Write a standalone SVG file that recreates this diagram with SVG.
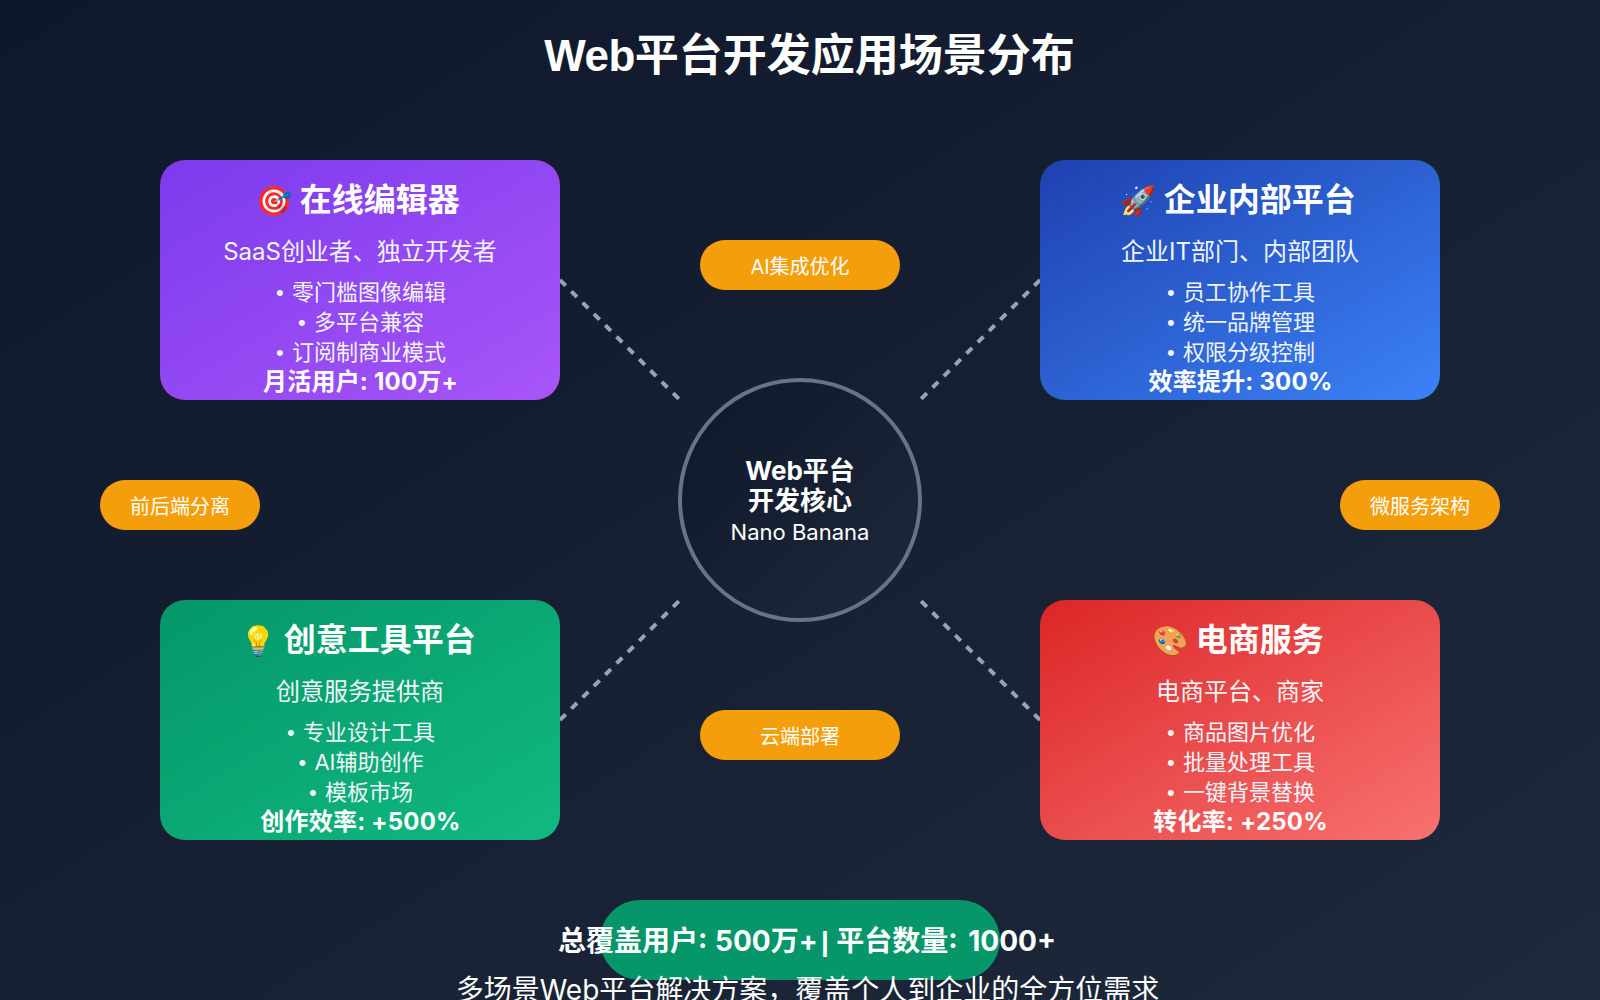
<svg xmlns="http://www.w3.org/2000/svg" width="1600" height="1000" viewBox="0 0 1600 1000">
<defs>
<linearGradient id="bg" x1="0" y1="0" x2="1" y2="1"><stop offset="0" stop-color="#0f172a"/><stop offset="1" stop-color="#1e293b"/></linearGradient>
<linearGradient id="g1" x1="0" y1="0" x2="1" y2="1"><stop offset="0" stop-color="#7c3aed"/><stop offset="1" stop-color="#a855f7"/></linearGradient>
<linearGradient id="g2" x1="0" y1="0" x2="1" y2="1"><stop offset="0" stop-color="#1e40af"/><stop offset="1" stop-color="#3b82f6"/></linearGradient>
<linearGradient id="g3" x1="0" y1="0" x2="1" y2="1"><stop offset="0" stop-color="#059669"/><stop offset="1" stop-color="#10b981"/></linearGradient>
<linearGradient id="g4" x1="0" y1="0" x2="1" y2="1"><stop offset="0" stop-color="#dc2626"/><stop offset="1" stop-color="#f87171"/></linearGradient>
</defs>
<style>
text{font-family:Inter,"Noto Sans CJK SC","Noto Color Emoji",sans-serif;text-anchor:middle;fill:#fff}
.t{font-size:32px;font-weight:700}
.e{font-size:29px}
.s{font-size:24px;fill:#f1f5f9}
.i{font-size:22px;fill:#f1f5f9;word-spacing:2px}
.b{font-family:"Liberation Sans",sans-serif}
.m{font-size:24px;font-weight:700;letter-spacing:.2px}
.p{fill:#f59e0b}
.pt{font-size:20px;font-weight:400}
.c{stroke:#94a3b8;stroke-width:4;stroke-dasharray:8 8;fill:none}
.st{font-size:28px;font-weight:700}
</style>
<rect width="1600" height="1000" fill="url(#bg)"/>
<text x="809.5" y="71" font-size="44" font-weight="700"><tspan font-family="Liberation Sans" letter-spacing="-.5">Web</tspan>平台开发应用场景分布</text>
<g id="connectors">
<line class="c" x1="560" y1="280" x2="680" y2="400"/>
<line class="c" x1="1040" y1="280" x2="920" y2="400"/>
<line class="c" x1="560" y1="720" x2="680" y2="600"/>
<line class="c" x1="1040" y1="720" x2="920" y2="600"/>
</g>
<g id="card-editor"><rect x="160" y="160" width="400" height="240" rx="25" fill="url(#g1)"/>
<text class="t" x="358" y="211"><tspan class="e">🎯</tspan> 在线编辑器</text><text class="s" x="360" y="260">SaaS创业者、独立开发者</text>
<text class="i" x="361" y="300"><tspan class="b">•</tspan> 零门槛图像编辑</text><text class="i" x="361" y="330"><tspan class="b">•</tspan> 多平台兼容</text><text class="i" x="361" y="360"><tspan class="b">•</tspan> 订阅制商业模式</text><text class="m" x="360.5" y="390">月活用户: 100万+</text></g>
<g id="card-enterprise"><rect x="1040" y="160" width="400" height="240" rx="25" fill="url(#g2)"/>
<text class="t" x="1238" y="211"><tspan class="e">🚀</tspan> 企业内部平台</text><text class="s" x="1240" y="260">企业IT部门、内部团队</text>
<text class="i" x="1241" y="300"><tspan class="b">•</tspan> 员工协作工具</text><text class="i" x="1241" y="330"><tspan class="b">•</tspan> 统一品牌管理</text><text class="i" x="1241" y="360"><tspan class="b">•</tspan> 权限分级控制</text><text class="m" x="1240.5" y="390">效率提升: 300%</text></g>
<g id="card-creative"><rect x="160" y="600" width="400" height="240" rx="25" fill="url(#g3)"/>
<text class="t" x="358" y="651"><tspan class="e">💡</tspan> 创意工具平台</text><text class="s" x="360" y="700">创意服务提供商</text>
<text class="i" x="361" y="740"><tspan class="b">•</tspan> 专业设计工具</text><text class="i" x="361" y="770"><tspan class="b">•</tspan> AI辅助创作</text><text class="i" x="361" y="800"><tspan class="b">•</tspan> 模板市场</text><text class="m" x="360.5" y="830">创作效率: +500%</text></g>
<g id="card-ecommerce"><rect x="1040" y="600" width="400" height="240" rx="25" fill="url(#g4)"/>
<text class="t" x="1238" y="651"><tspan class="e">🎨</tspan> 电商服务</text><text class="s" x="1240" y="700">电商平台、商家</text>
<text class="i" x="1241" y="740"><tspan class="b">•</tspan> 商品图片优化</text><text class="i" x="1241" y="770"><tspan class="b">•</tspan> 批量处理工具</text><text class="i" x="1241" y="800"><tspan class="b">•</tspan> 一键背景替换</text><text class="m" x="1240.5" y="830">转化率: +250%</text></g>
<g id="core"><circle cx="800" cy="500" r="120" fill="url(#bg)" stroke="#64748b" stroke-width="4"/>
<text x="800" y="480" font-size="26" font-weight="700">Web平台</text><text x="800" y="510" font-size="26" font-weight="700">开发核心</text><text x="800" y="540" font-size="22" fill="#f1f5f9">Nano Banana</text></g>
<g id="tag-ai"><rect class="p" x="700" y="240" width="200" height="50" rx="25"/><text class="pt" x="800" y="274">AI集成优化</text></g>
<g id="tag-sep"><rect class="p" x="100" y="480" width="160" height="50" rx="25"/><text class="pt" x="180" y="514">前后端分离</text></g>
<g id="tag-ms"><rect class="p" x="1340" y="480" width="160" height="50" rx="25"/><text class="pt" x="1420" y="514">微服务架构</text></g>
<g id="tag-cloud"><rect class="p" x="700" y="710" width="200" height="50" rx="25"/><text class="pt" x="800" y="744">云端部署</text></g>
<g id="summary"><rect x="600" y="900" width="400" height="80" rx="40" fill="#059669"/>
<text class="st" x="558" y="951" style="text-anchor:start" word-spacing="1">总覆盖用户: 500万+</text>
<text class="st" x="825" y="951" style="font-family:'Liberation Sans',sans-serif">|</text>
<text class="st" x="1056" y="951" style="text-anchor:end" word-spacing="4">平台数量: 1000+</text>
<text x="807.5" y="1000" font-size="28" fill="#e2e8f0">多场景Web平台解决方案，覆盖个人到企业的全方位需求</text></g>
</svg>
